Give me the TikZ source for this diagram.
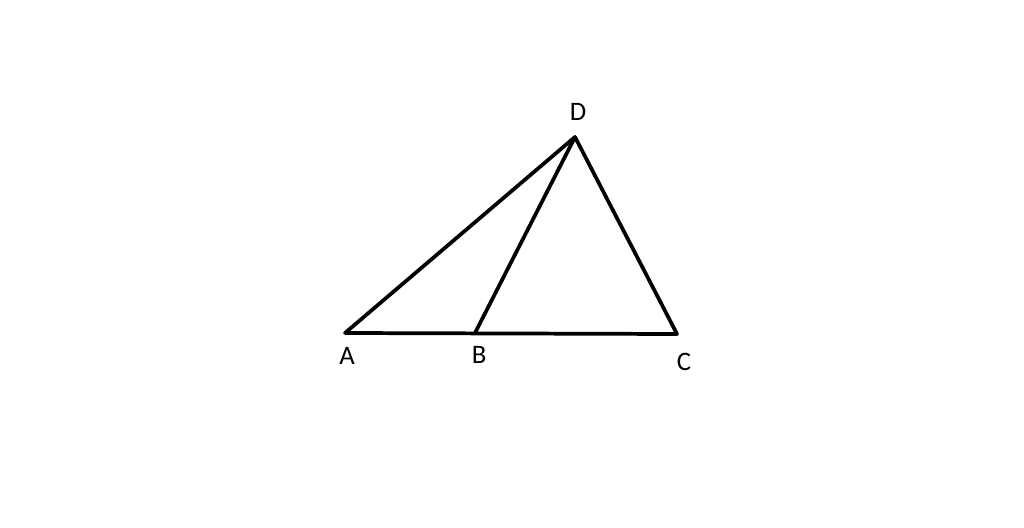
\documentclass[tikz,border=0pt]{standalone}
\usepackage{fontspec}
\setmainfont{Carlito}
\begin{document}
\begin{tikzpicture}[x=0.75pt,y=-0.75pt,
  edge/.style={line width=2.8pt,line join=round,line cap=round},
  lbl/.style={font=\fontsize{20}{22}\selectfont,inner sep=0pt}]
\useasboundingbox[fill=white] (0,0) rectangle (1024,528);
\coordinate (A) at (345,333);
\coordinate (B) at (475,333);
\coordinate (C) at (677,334);
\coordinate (D) at (575,137);
\draw[edge] (A) -- (C) -- (D) -- cycle;
\draw[edge] (B) -- (D);
\node[lbl] (lA) at (347,356) {A};
\node[lbl] (lB) at (479,355) {B};
\node[lbl] (lC) at (684,362) {C};
\node[lbl] (lD) at (578,112) {D};
\end{tikzpicture}
\end{document}
